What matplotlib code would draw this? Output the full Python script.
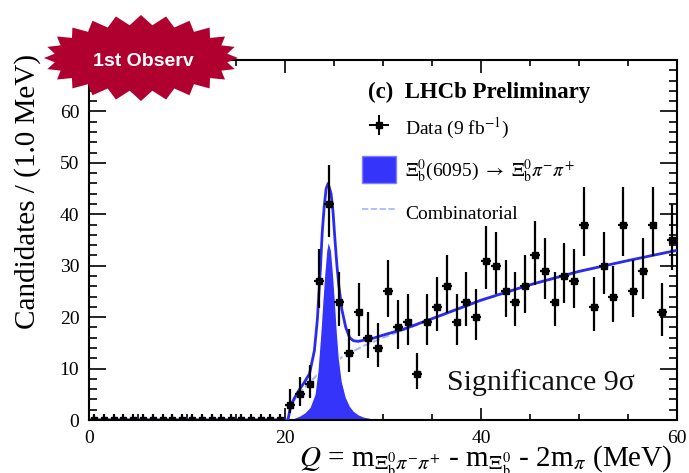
import numpy as np
import matplotlib.pyplot as plt
from matplotlib.patches import Polygon, Patch
from matplotlib.lines import Line2D
from matplotlib.ticker import MultipleLocator

plt.rcParams['font.family'] = ['Liberation Serif', 'DejaVu Serif']
plt.rcParams['mathtext.fontset'] = 'stix'

# data: Q bins of 1 MeV (centres), candidates per bin
bin_centers = np.arange(0.5, 60.0, 1.0)
counts = [0, 0, 0, 0, 0, 0, 0, 0, 0, 0,
          0, 0, 0, 0, 0, 0, 0, 0, 0, 0,
          3, 5, 7, 27, 42, 23, 13, 21, 16, 14,
          25, 18, 19, 9, 19, 22, 26, 19, 23, 20,
          31, 30, 25, 23, 26, 32, 29, 23, 28, 27,
          38, 22, 30, 24, 38, 25, 29, 38, 21, 35]

# fit curves
fit_q = [0.0, 20.3, 20.6, 21.0, 21.5, 22.0, 22.5, 23.0, 23.3, 23.6, 23.8,
         24.0, 24.2, 24.4, 24.7, 24.9, 25.1, 25.3, 25.5, 25.8, 26.2,
         26.6, 27.0, 27.5, 28.0, 29.0, 30.0, 32.0, 35.0, 40.0, 45.0,
         50.0, 55.0, 60.0]
fit_total = [0.0, 0.0, 2.9, 4.4, 6.0, 7.4, 9.0, 13.5, 19.5, 29.0, 36.5,
             41.5, 45.0, 46.0, 44.0, 40.5, 35.0, 30.0, 26.0, 21.5, 18.0,
             16.0, 15.4, 15.3, 15.5, 15.9, 16.5, 17.6, 19.7, 23.3, 26.3,
             28.9, 31.0, 33.0]
fit_sig = [0.0, 0.0, 0.2, 0.5, 0.9, 1.5, 2.5, 5.0, 9.5, 17.0, 23.0,
           28.5, 33.0, 35.0, 33.0, 28.5, 23.0, 17.0, 12.0, 7.5, 4.5,
           2.8, 1.8, 1.1, 0.7, 0.3, 0.12, 0.0, 0.0, 0.0, 0.0,
           0.0, 0.0, 0.0]
fit_bkg = [0.0, 0.0, 2.9, 4.0, 5.3, 6.3, 7.3, 8.2, 8.8, 9.3, 9.6,
           10.0, 10.3, 10.6, 10.9, 11.2, 11.4, 11.6, 11.8, 12.2, 12.6,
           13.0, 13.4, 13.9, 14.4, 15.2, 16.0, 17.4, 19.6, 23.2, 26.2,
           28.8, 31.0, 33.0]

SIG = '#3434fb'
LINE = '#2a2af0'
BKG = '#9db6ff'


def main():
    fig = plt.figure(figsize=(6.89, 4.73), dpi=100)
    ax = fig.add_axes([89 / 689, 53 / 473, 588 / 689, 360 / 473])

    n = np.array(counts, dtype=float)
    err_lo = np.sqrt(n)
    err_hi = np.where(n > 0, np.sqrt(n + 0.75) + 1.0, 1.15)

    ax.plot(fit_q, fit_bkg, '--', color=BKG, lw=1.4, zorder=1.5)
    ax.fill_between(fit_q, 0, fit_sig, facecolor=SIG, edgecolor='white',
                    lw=0.9, zorder=2)
    ax.plot(fit_q, fit_total, color=LINE, lw=2.0, zorder=3)
    ax.errorbar(bin_centers, n, xerr=0.5, yerr=[err_lo, err_hi], fmt='s',
                ms=4, color='k', elinewidth=1.6, capsize=0, zorder=4)

    ax.set_xlim(0, 60)
    ax.set_ylim(0, 70)
    ax.xaxis.set_major_locator(MultipleLocator(20))
    ax.xaxis.set_minor_locator(MultipleLocator(5))
    ax.yaxis.set_major_locator(MultipleLocator(10))
    ax.yaxis.set_minor_locator(MultipleLocator(2))
    ax.tick_params(axis='both', which='both', direction='in', top=True,
                   right=True, labelsize=14, width=1.2, color='k')
    ax.tick_params(axis='y', which='major', length=12, pad=7)
    ax.tick_params(axis='y', which='minor', length=6)
    ax.tick_params(axis='x', which='major', length=9, pad=7)
    ax.tick_params(axis='x', which='minor', length=4.5)
    for s in ax.spines.values():
        s.set_linewidth(1.5)

    # legend
    data_h = ax.errorbar([np.nan], [np.nan], xerr=0.5, yerr=1.0, fmt='s',
                         ms=4, color='k', elinewidth=1.4, capsize=0)
    handles = [
        data_h,
        Patch(facecolor=SIG, edgecolor='#8080ff'),
        Line2D([], [], color=BKG, ls='--', lw=1.2),
    ]
    labels = [r'Data (9 fb$^{-1}$)',
              r'$\Xi_{\rm b}^{0}$(6095) $\rightarrow$ $\Xi_{\rm b}^{0}\pi^{-}\pi^{+}$',
              'Combinatorial']
    ax.legend(handles, labels, loc='upper left',
              bbox_to_anchor=((362 - 89) / 588, (420 - 115) / 360),
              frameon=False, fontsize=14, handlelength=1.75,
              handleheight=1.75, handletextpad=0.45, labelspacing=0.75,
              borderpad=0, borderaxespad=0)
    ax.text((368 - 89) / 588, (420 - 92) / 360, '(c)  LHCb Preliminary',
            transform=ax.transAxes, fontsize=16.5, fontweight='bold',
            va='center', ha='left')

    ax.text((447 - 89) / 588, (420 - 383) / 360, 'Significance 9σ',
            transform=ax.transAxes, fontsize=21.5, va='center', ha='left',
            color='#111111')

    fig.text(28 / 689, 1 - 54 / 473, 'Candidates / (1.0 MeV)', rotation=90,
             ha='center', va='top', fontsize=21)
    fig.text(672 / 689, 1 - 467 / 473,
             r'$Q$ = m$_{\Xi_{\rm b}^{0}\pi^{-}\pi^{+}}$ - m$_{\Xi_{\rm b}^{0}}$ - 2m$_{\pi}$ (MeV)',
             ha='right', va='baseline', fontsize=21)

    # "1st Observ" badge
    nsp = 24
    t = np.linspace(0, 2 * np.pi, 2 * nsp, endpoint=False)
    rx = np.where(np.arange(2 * nsp) % 2 == 0, 97, 87)
    ry = np.where(np.arange(2 * nsp) % 2 == 0, 43, 33)
    px = 141 + rx * np.cos(t)
    py = 58 + ry * np.sin(t)
    star = Polygon(np.column_stack([px / 689, 1 - py / 473]), closed=True,
                   facecolor='#b0002f', edgecolor='none',
                   transform=fig.transFigure, zorder=10)
    fig.add_artist(star)
    fig.text(143 / 689, 1 - 61 / 473, '1st Observ', color='white',
             fontsize=14, fontweight='bold', family='Liberation Sans',
             ha='center', va='center', zorder=11)

    fig.savefig('out.png', dpi=100, facecolor='w')


if __name__ == '__main__':
    main()
